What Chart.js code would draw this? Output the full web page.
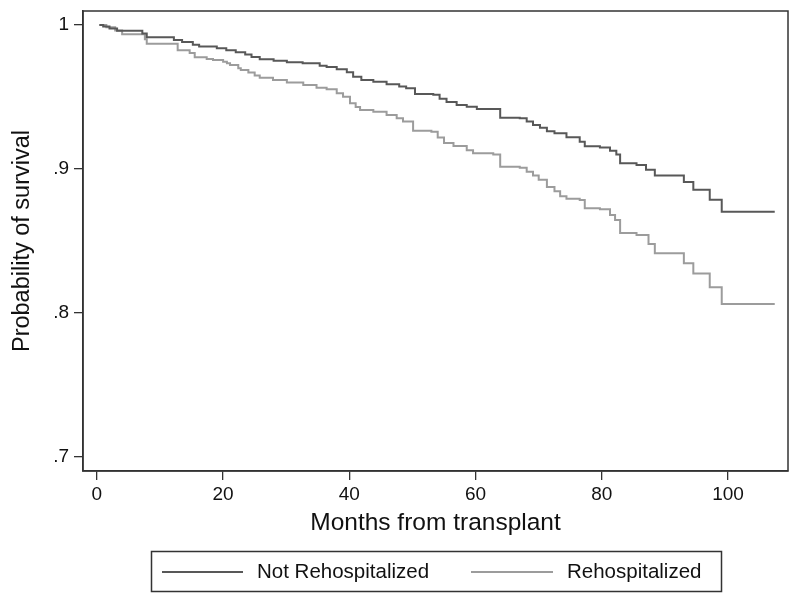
<!DOCTYPE html>
<html><head><meta charset="utf-8">
<script src="https://cdn.jsdelivr.net/npm/chart.js@4/dist/chart.umd.min.js"></script>
<style>html,body{margin:0;padding:0;background:#fff;}#wrap{width:800px;height:603px;}</style>
</head><body><div id="wrap"><canvas id="c" width="800" height="603"></canvas></div>
<script>
const xTicks = [0, 20, 40, 60, 80, 100];
const yTickValues = [0.7, 0.8, 0.9, 1];
const yTickLabels = ['.7', '.8', '.9', '1'];
const seriesLabels = ['Not Rehospitalized', 'Rehospitalized'];
const xTitle = 'Months from transplant';
const yTitle = 'Probability of survival';

const notRehospMonths = [0.4, 1.0, 2.0, 3.2, 7.2, 7.9, 12.2, 13.5, 15.2, 16.2, 19.0, 20.5, 22.0, 23.5, 24.5, 25.8, 28.0, 30.1, 32.6, 35.3, 36.4, 38.0, 39.6, 40.6, 41.9, 43.8, 45.9, 47.9, 49.0, 50.4, 53.3, 54.3, 55.4, 57.0, 58.6, 60.2, 63.9, 67.0, 68.1, 69.1, 70.2, 71.3, 72.5, 74.4, 76.5, 77.3, 79.7, 81.3, 82.3, 82.9, 85.5, 87.0, 88.4, 93.0, 94.5, 97.1, 99.0, 107.4];
const notRehospSurv = [1.0, 0.9990, 0.9975, 0.9960, 0.9940, 0.9915, 0.9895, 0.9882, 0.9862, 0.9850, 0.9838, 0.9825, 0.9810, 0.9795, 0.9778, 0.9762, 0.9752, 0.9741, 0.9734, 0.9717, 0.9708, 0.9692, 0.9672, 0.9641, 0.9618, 0.9606, 0.9588, 0.9572, 0.9560, 0.9520, 0.9515, 0.9488, 0.9466, 0.9445, 0.9433, 0.9417, 0.9356, 0.9352, 0.9329, 0.9306, 0.9287, 0.9262, 0.9248, 0.9220, 0.9190, 0.9158, 0.9150, 0.9127, 0.9100, 0.9040, 0.9028, 0.8995, 0.8955, 0.8910, 0.8855, 0.8787, 0.8703, 0.8703];

const rehospMonths = [0.4, 1.5, 2.9, 4.0, 7.6, 7.9, 12.8, 14.7, 15.5, 17.4, 18.4, 20.0, 20.6, 21.1, 22.4, 22.8, 24.0, 25.0, 25.8, 27.9, 30.1, 32.7, 34.8, 36.4, 38.0, 39.0, 40.1, 41.0, 41.7, 43.8, 45.9, 47.5, 48.5, 50.1, 53.0, 54.0, 55.0, 56.5, 58.6, 59.6, 62.8, 63.9, 67.0, 68.1, 69.1, 70.0, 71.3, 72.5, 73.4, 74.4, 76.5, 77.3, 79.7, 81.3, 82.1, 82.9, 85.5, 87.4, 88.4, 93.0, 94.5, 97.1, 99.0, 107.4];
const rehospSurv = [1.0, 0.9985, 0.9962, 0.9935, 0.9900, 0.9870, 0.9825, 0.9805, 0.9775, 0.9764, 0.9757, 0.9745, 0.9734, 0.9722, 0.9700, 0.9688, 0.9670, 0.9650, 0.9634, 0.9618, 0.9601, 0.9583, 0.9564, 0.9553, 0.9526, 0.9502, 0.9456, 0.9430, 0.9410, 0.9398, 0.9375, 0.9352, 0.9330, 0.9265, 0.9258, 0.9218, 0.9180, 0.9160, 0.9130, 0.9110, 0.9100, 0.9016, 0.9008, 0.8980, 0.8955, 0.8925, 0.8875, 0.8845, 0.8810, 0.8793, 0.8784, 0.8728, 0.8720, 0.8680, 0.8645, 0.8555, 0.8542, 0.8480, 0.8415, 0.8345, 0.8275, 0.8178, 0.8063, 0.8063];

const seriesColors = ['#585858', '#9c9c9c'];
const FONT = '"Liberation Sans", Arial, Helvetica, sans-serif';

function toPoints(xs, ys) { return xs.map((x, i) => ({x: x, y: ys[i]})); }

const framePlugin = {
  id: 'frame',
  afterDatasetsDraw(chart) {
    const a = chart.chartArea, ctx = chart.ctx;
    ctx.save();
    ctx.strokeStyle = '#333';
    ctx.lineWidth = 1.5;
    ctx.strokeRect(a.left, a.top, a.right - a.left, a.bottom - a.top);
    ctx.restore();
  }
};

const legendPlugin = {
  id: 'boxLegend',
  afterDraw(chart) {
    const ctx = chart.ctx;
    ctx.save();
    ctx.strokeStyle = '#333';
    ctx.lineWidth = 1.5;
    ctx.strokeRect(151.5, 551.5, 570, 40);
    const items = [{x0: 162, x1: 243, tx: 257}, {x0: 471, x1: 553, tx: 567}];
    chart.data.datasets.forEach((ds, i) => {
      const it = items[i];
      ctx.strokeStyle = ds.borderColor;
      ctx.lineWidth = 2;
      ctx.beginPath();
      ctx.moveTo(it.x0, 572);
      ctx.lineTo(it.x1, 572);
      ctx.stroke();
      ctx.fillStyle = '#111';
      ctx.font = '20.5px ' + FONT;
      ctx.textAlign = 'left';
      ctx.textBaseline = 'middle';
      ctx.fillText(ds.label, it.tx, 572);
    });
    ctx.restore();
  }
};

new Chart(document.getElementById('c'), {
  type: 'line',
  data: {
    datasets: [
      {label: seriesLabels[0], data: toPoints(notRehospMonths, notRehospSurv), borderColor: seriesColors[0], backgroundColor: seriesColors[0], borderWidth: 2, pointRadius: 0, stepped: 'before', tension: 0, fill: false},
      {label: seriesLabels[1], data: toPoints(rehospMonths, rehospSurv), borderColor: seriesColors[1], backgroundColor: seriesColors[1], borderWidth: 2, pointRadius: 0, stepped: 'before', tension: 0, fill: false}
    ]
  },
  options: {
    responsive: false,
    animation: false,
    devicePixelRatio: 1,
    layout: {padding: {top: 11, right: 12, bottom: 60, left: 0}},
    plugins: {legend: {display: false}, tooltip: {enabled: false}},
    scales: {
      x: {
        type: 'linear', position: 'bottom', min: -2.2, max: 109.5,
        grid: {drawOnChartArea: false, drawTicks: true, tickLength: 9, color: '#333', lineWidth: 1.3},
        border: {display: true, color: '#333', width: 1.5},
        ticks: {font: {family: FONT, size: 19}, color: '#111', padding: 3, autoSkip: false, maxRotation: 0},
        afterBuildTicks: s => { s.ticks = xTicks.map(v => ({value: v})); },
        afterFit: s => { s.height = 72; s.paddingLeft = 0; s.paddingRight = 0; },
        title: {display: true, text: xTitle, color: '#111', font: {family: FONT, size: 24.5}, padding: {top: 0, bottom: 5}}
      },
      y: {
        type: 'linear', position: 'left', min: 0.6903, max: 1.0097,
        grid: {drawOnChartArea: false, drawTicks: true, tickLength: 9, color: '#333', lineWidth: 1.3},
        border: {display: true, color: '#333', width: 1.5},
        ticks: {font: {family: FONT, size: 19}, color: '#111', padding: 5, autoSkip: false,
          callback: v => { const i = yTickValues.indexOf(v); return i >= 0 ? yTickLabels[i] : ''; }},
        afterBuildTicks: s => { s.ticks = yTickValues.map(v => ({value: v})); },
        afterFit: s => { s.width = 83; s.paddingTop = 0; s.paddingBottom = 0; },
        title: {display: true, text: yTitle, color: '#111', font: {family: FONT, size: 23.5}, padding: {top: 8, bottom: 0}}
      }
    }
  },
  plugins: [framePlugin, legendPlugin]
});
</script>
</body></html>
